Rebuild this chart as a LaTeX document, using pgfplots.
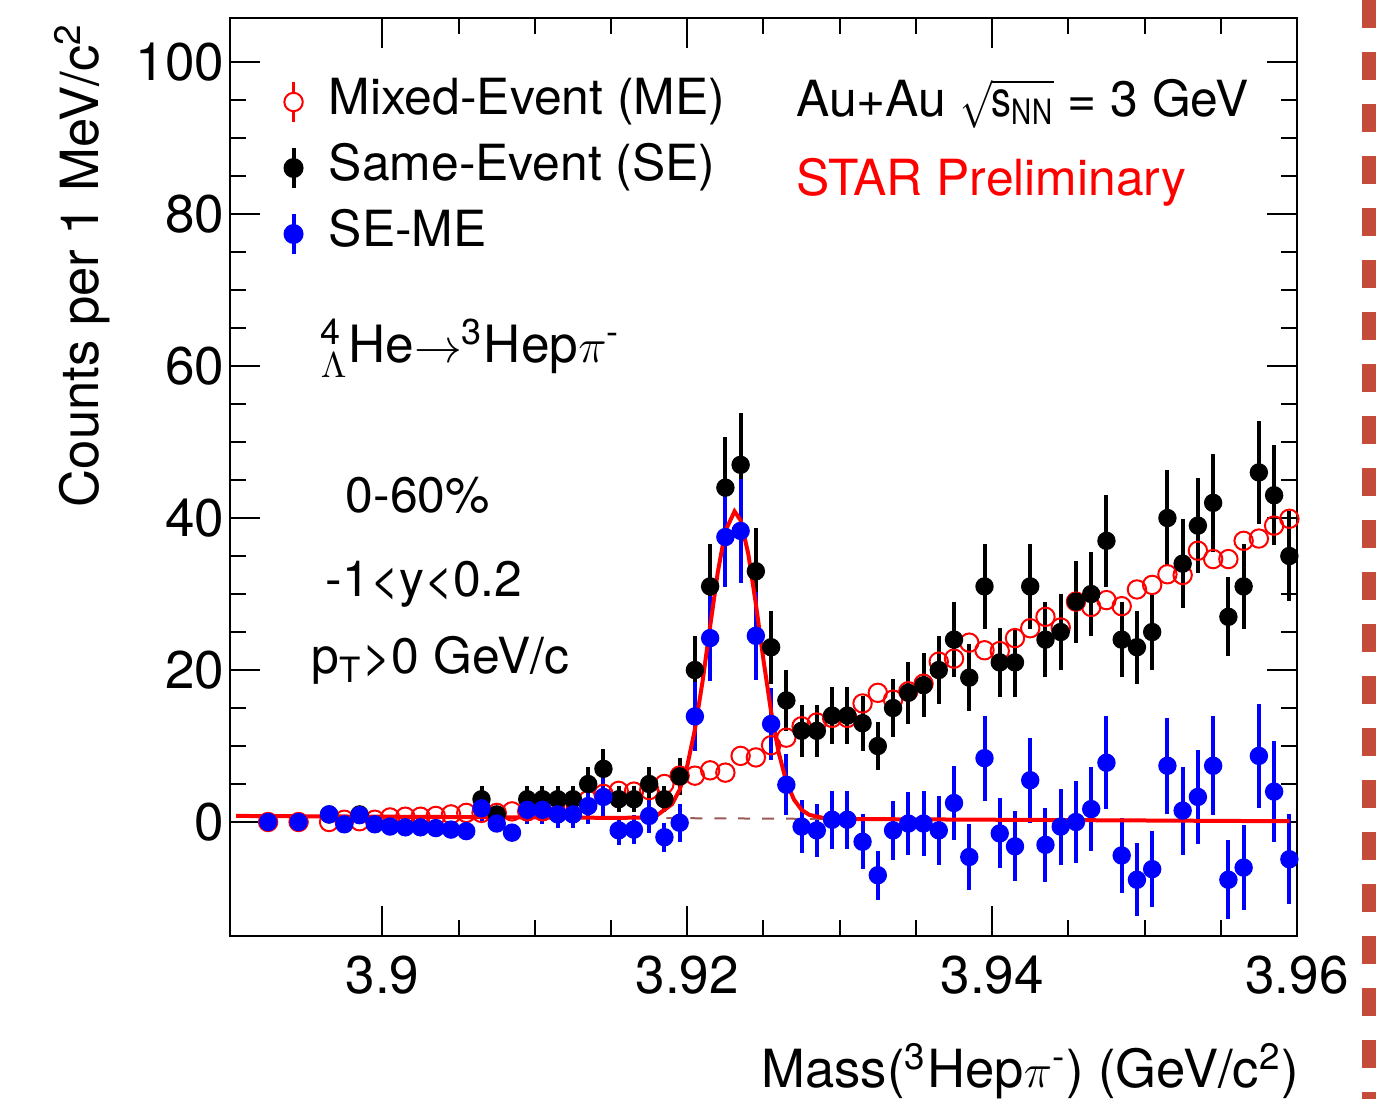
\documentclass[border=0pt]{standalone}
\usepackage{amsmath}
\usepackage{graphicx}
\usepackage{pgfplots}
\pgfplotsset{compat=1.18}
\usepackage{pgfplotstable}
\usepackage{fontspec}
\setmainfont{TeX Gyre Heros}

\definecolor{rootred}{rgb}{1,0,0}
\definecolor{rootblue}{rgb}{0,0,1}
\definecolor{bgline}{rgb}{0.62,0.35,0.35}
\definecolor{slidered}{RGB}{196,74,58}
\newcommand\fsl{\fontsize{13.2}{16}\selectfont}
\newcommand\fsk{\fontsize{13.3}{16}\selectfont}
\newcommand\fst{\fontsize{12.5}{15}\selectfont}

% same-event counts (x, y, stat. error)
\pgfplotstableread{
x y e
3.8965 1 1.00
3.8985 1 1.00
3.9065 3 1.73
3.9075 1 1.00
3.9095 3 1.73
3.9105 3 1.73
3.9115 3 1.73
3.9125 3 1.73
3.9135 5 2.24
3.9145 7 2.65
3.9155 3 1.73
3.9165 3 1.73
3.9175 5 2.24
3.9185 3 1.73
3.9195 6 2.45
3.9205 20 4.47
3.9215 31 5.57
3.9225 44 6.63
3.9235 47 6.86
3.9245 33 5.74
3.9255 23 4.80
3.9265 16 4.00
3.9275 12 3.46
3.9285 12 3.46
3.9295 14 3.74
3.9305 14 3.74
3.9315 13 3.61
3.9325 10 3.16
3.9335 15 3.87
3.9345 17 4.12
3.9355 18 4.24
3.9365 20 4.47
3.9375 24 4.90
3.9385 19 4.36
3.9395 31 5.57
3.9405 21 4.58
3.9415 21 4.58
3.9425 31 5.57
3.9435 24 4.90
3.9445 25 5.00
3.9455 29 5.39
3.9465 30 5.48
3.9475 37 6.08
3.9485 24 4.90
3.9495 23 4.80
3.9505 25 5.00
3.9515 40 6.32
3.9525 34 5.83
3.9535 39 6.24
3.9545 42 6.48
3.9555 27 5.20
3.9565 31 5.57
3.9575 46 6.78
3.9585 43 6.56
3.9595 35 5.92
}\tblSE

% mixed-event (normalised)
\pgfplotstableread{
x y
3.8925 0.0
3.8945 0.0
3.8965 0.0
3.8975 0.3
3.8985 0.1
3.8995 0.3
3.9005 0.6
3.9015 0.7
3.9025 0.7
3.9035 0.8
3.9045 1.0
3.9055 1.2
3.9065 1.2
3.9075 1.2
3.9085 1.4
3.9095 1.4
3.9105 1.4
3.9115 2.0
3.9125 2.0
3.9135 2.9
3.9145 3.7
3.9155 4.1
3.9165 4.0
3.9175 4.2
3.9185 5.0
3.9195 6.1
3.9205 6.1
3.9215 6.8
3.9225 6.5
3.9235 8.7
3.9245 8.5
3.9255 10.1
3.9265 11.1
3.9275 12.6
3.9285 13.1
3.9295 13.7
3.9305 13.7
3.9315 15.6
3.9325 17.0
3.9335 16.1
3.9345 17.2
3.9355 18.2
3.9365 21.1
3.9375 21.5
3.9385 23.6
3.9395 22.6
3.9405 22.5
3.9415 24.2
3.9425 25.5
3.9435 27.0
3.9445 25.6
3.9455 29.0
3.9465 28.3
3.9475 29.2
3.9485 28.4
3.9495 30.6
3.9505 31.2
3.9515 32.6
3.9525 32.5
3.9535 35.7
3.9545 34.6
3.9555 34.6
3.9565 37.0
3.9575 37.3
3.9585 39.0
3.9595 39.9
}\tblME

% SE-ME
\pgfplotstableread{
x y e
3.8925 0.0 0.3
3.8945 0.0 0.3
3.8965 1.0 1.0
3.8975 -0.3 0.5
3.8985 0.9 1.0
3.8995 -0.3 0.5
3.9005 -0.6 0.6
3.9015 -0.7 0.6
3.9025 -0.7 0.6
3.9035 -0.8 0.7
3.9045 -1.0 0.7
3.9055 -1.2 0.8
3.9065 1.8 1.8
3.9075 -0.2 1.1
3.9085 -1.4 0.8
3.9095 1.6 1.8
3.9105 1.6 1.8
3.9115 1.0 1.8
3.9125 1.0 1.8
3.9135 2.1 2.3
3.9145 3.3 2.7
3.9155 -1.1 1.9
3.9165 -1.0 1.9
3.9175 0.8 2.3
3.9185 -2.0 1.9
3.9195 -0.1 2.5
3.9205 13.9 4.5
3.9215 24.2 5.6
3.9225 37.5 6.6
3.9235 38.3 6.9
3.9245 24.5 5.8
3.9255 12.9 4.8
3.9265 4.9 4.0
3.9275 -0.6 3.5
3.9285 -1.1 3.5
3.9295 0.3 3.8
3.9305 0.3 3.8
3.9315 -2.6 3.6
3.9325 -7.0 3.2
3.9335 -1.1 3.9
3.9345 -0.2 4.1
3.9355 -0.2 4.3
3.9365 -1.1 4.5
3.9375 2.5 4.9
3.9385 -4.6 4.4
3.9395 8.4 5.6
3.9405 -1.5 4.6
3.9415 -3.2 4.6
3.9425 5.5 5.6
3.9435 -3.0 4.9
3.9445 -0.6 5.0
3.9455 0.0 5.4
3.9465 1.7 5.5
3.9475 7.8 6.1
3.9485 -4.4 4.9
3.9495 -7.6 4.8
3.9505 -6.2 5.0
3.9515 7.4 6.3
3.9525 1.5 5.8
3.9535 3.3 6.2
3.9545 7.4 6.5
3.9555 -7.6 5.2
3.9565 -6.0 5.6
3.9575 8.7 6.8
3.9585 4.0 6.6
3.9595 -4.9 5.9
}\tblSub

% fit: gaussian + linear background
\pgfplotstableread{
x y
3.8904 0.80
3.9100 0.60
3.9150 0.55
3.9170 0.57
3.9180 0.86
3.9190 2.35
3.9195 4.24
3.9200 7.41
3.9205 12.17
3.9210 18.47
3.9215 25.75
3.9220 32.85
3.9225 38.30
3.9231 40.88
3.9235 39.70
3.9240 35.30
3.9245 28.70
3.9250 21.30
3.9255 14.50
3.9260 9.10
3.9265 5.30
3.9270 2.95
3.9275 1.60
3.9280 0.95
3.9290 0.50
3.9300 0.40
3.9400 0.30
3.9500 0.20
3.9595 0.10
}\tblFit

\pgfplotstableread{
x y
3.8904 0.80
3.9595 0.10
}\tblBkg

\begin{document}
\begin{tikzpicture}
\path[use as bounding box] (-57.5bp,-40.75bp) rectangle (290.75bp,234bp);
\begin{axis}[
  scale only axis,
  width=266.75bp, height=229.5bp,
  xmin=3.89, xmax=3.96,
  ymin=-15, ymax=105.8,
  xtick={3.9,3.92,3.94,3.96},
  xticklabels={3.9,3.92,3.94,3.96},
  ytick={0,20,40,60,80,100},
  yticklabels={0,20,40,60,80,100},
  minor x tick num=3, minor y tick num=3,
  tick align=inside, tick pos=both,
  major tick length=7.5bp, minor tick length=4bp,
  axis line style={line width=0.5bp},
  every tick/.style={line width=0.5bp, black},
  tick label style={font=\fsk},
  xticklabel style={anchor=north, inner sep=0pt, yshift=-4.75bp},
  yticklabel style={anchor=east, inner sep=0pt, xshift=-1.2bp},
  /pgf/number format/assume math mode=true,
  legend cell align=left,
  legend style={at={(axis cs:3.8935,97.9)}, anchor=north west,
    draw=none, fill=none, inner sep=0pt, outer sep=0pt,
    font=\fst, row sep=4.5bp, column sep=6.3bp,
    nodes={inner sep=0pt, text height=9bp, text depth=3bp}},
]
\addplot[only marks, mark=o, mark size=2.3bp, rootred, line width=0.5bp,
  legend image code/.code={
    \draw[rootred, line width=0.9bp] (0bp,2.3bp) -- (0bp,5bp) (0bp,-2.3bp) -- (0bp,-5bp);
    \draw[rootred, line width=0.5bp] (0bp,0bp) circle (2.3bp);}]
  table[x=x, y=y] {\tblME};
\addlegendentry{Mixed-Event (ME)}

\addplot[only marks, mark=*, mark size=2.1bp, black,
  legend image code/.code={
    \draw[black, line width=1bp] (0bp,-5bp) -- (0bp,5bp);
    \fill[black] (0bp,0bp) circle (2.3bp);},
  error bars/.cd, y dir=both, y explicit, error mark=none,
  error bar style={line width=1bp, black}]
  table[x=x, y=y, y error=e] {\tblSE};
\addlegendentry{Same-Event (SE)}

\addplot[only marks, mark=*, mark size=2.1bp, rootblue,
  legend image code/.code={
    \draw[rootblue, line width=1bp] (0bp,-5bp) -- (0bp,5bp);
    \fill[rootblue] (0bp,0bp) circle (2.3bp);},
  error bars/.cd, y dir=both, y explicit, error mark=none,
  error bar style={line width=1bp, rootblue}]
  table[x=x, y=y, y error=e] {\tblSub};
\addlegendentry{SE-ME}

\addplot[forget plot, bgline, line width=0.5bp, dashed] table[x=x, y=y] {\tblBkg};
\addplot[forget plot, rootred, line width=1bp] table[x=x, y=y] {\tblFit};

\node[anchor=base west, inner sep=0pt, font=\fst] at (axis cs:3.92710,92.9)
  {Au+Au \scalebox{0.8}[1]{\ensuremath{\sqrt{\text{s}_{\text{NN}}}}} = 3 GeV};
\node[anchor=base west, inner sep=0pt, font=\fst, text=rootred] at (axis cs:3.92710,82.4)
  {STAR Preliminary};
\node[anchor=base west, inner sep=0pt, font=\fontsize{12.9}{15}\selectfont] at (axis cs:3.89591,60.5)
  {$^{\text{4}}_{\Lambda}$He$\rightarrow$$^{\text{3}}$Hep$\pi^{\text{-}}$};
\node[anchor=base west, inner sep=0pt, font=\fst] at (axis cs:3.89755,40.7) {0-60\%};
\node[anchor=base west, inner sep=0pt, font=\fst] at (axis cs:3.89624,29.7) {-1<y<0.2};
\node[anchor=base west, inner sep=0pt, font=\fst] at (axis cs:3.89532,19.5)
  {p$_{\text{T}}$>0 GeV/c};
\end{axis}
\node[anchor=base east, inner sep=0pt, font=\fsl] at (267.5bp,-37.75bp)
  {Mass($^{\text{3}}$Hep$\pi^{\text{-}}$) (GeV/c$^{\text{2}}$)};
\node[rotate=90, anchor=base east, inner sep=0pt, font=\fsl] at (-33bp,228.5bp)
  {Counts per 1 MeV/c$^{\text{2}}$};
\draw[slidered, line width=3.5bp, dash pattern=on 7bp off 6bp]
  (284.75bp,234bp) -- (284.75bp,-40.75bp);
\end{tikzpicture}
\end{document}
